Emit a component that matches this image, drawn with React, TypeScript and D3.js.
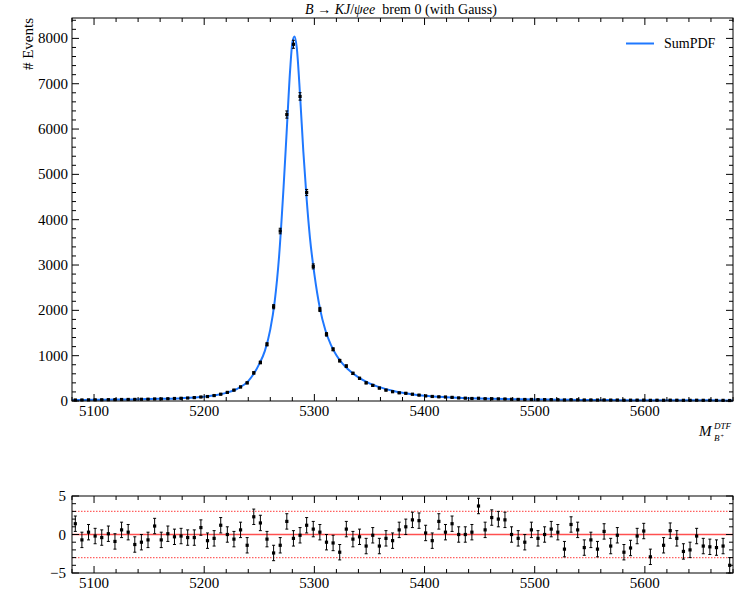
import React from "react";
import * as d3 from "d3";

// Binning: 100 bins of 6 MeV from 5080 to 5680
const xDomain: [number, number] = [5080, 5680];
const binCenters: number[] = d3.range(5083, 5680, 6);

// Event counts per bin
const counts: number[] = [
  22, 23, 25, 26, 27, 29, 30, 33, 34, 35,
  38, 40, 45, 46, 50, 55, 60, 66, 75, 88,
  98, 120, 150, 190, 240, 310, 400, 620, 850, 1250,
  2080, 3750, 6320, 7870, 6720, 4600, 2970, 2020, 1470, 1140,
  890, 770, 610, 500, 400, 345, 285, 240, 205, 180,
  170, 150, 130, 112, 100, 92, 88, 80, 68, 62,
  55, 60, 50, 50, 47, 44, 38, 35, 33, 34,
  31, 30, 30, 28, 23, 28, 26, 22, 23, 21,
  23, 20, 21, 17, 18, 19, 20, 15, 17, 16,
  18, 17, 15, 15, 17, 15, 15, 14, 14, 11,
];

// Fitted SumPDF curve samples
const curveX: number[] = [
  5080, 5100, 5120, 5140, 5160, 5180, 5200, 5210, 5220, 5230,
  5240, 5245, 5250, 5255, 5260, 5264, 5268, 5272, 5275, 5278,
  5280, 5282, 5284, 5287, 5290, 5293, 5296, 5300, 5305, 5310,
  5315, 5320, 5325, 5330, 5340, 5350, 5360, 5370, 5380, 5390,
  5400, 5420, 5440, 5460, 5480, 5500, 5520, 5540, 5560, 5580,
  5600, 5620, 5640, 5660, 5680,
];
const curveY: number[] = [
  20, 25, 31, 38, 48, 63, 95, 125, 180, 270,
  440, 600, 820, 1100, 1580, 2200, 3200, 4700, 6000, 7300,
  7900, 8040, 7800, 6750, 5500, 4450, 3600, 2800, 2050, 1560,
  1240, 1010, 840, 710, 520, 390, 300, 230, 180, 145,
  118, 85, 63, 50, 40, 33, 28, 24, 21, 19,
  17, 16, 15, 14, 13,
];

// Pulls per bin (null = not drawn)
const pulls: (number | null)[] = [
  1.4, -0.7, 0.3, -0.2, -0.4, 0.1, -0.9, 0.6, 0.3, -1.3,
  -1.0, -0.7, 1.1, -0.7, 0.1, -0.3, -0.2, -0.4, -0.4, 0.9,
  -0.8, -0.5, 1.2, 0.0, -0.6, 0.6, -1.4, 2.3, 1.5, -0.6,
  -2.4, -1.4, 1.7, -0.5, -0.1, 1.2, 0.7, 0.3, -1.0, -1.1,
  -2.3, 0.7, -0.6, -0.3, -1.5, -0.1, -1.5, -0.5, -0.8, 0.6,
  1.0, 1.9, 1.8, 0.2, -0.8, 1.7, 0.3, 1.4, 0.0, 0.0,
  0.3, 3.7, 0.6, 2.2, 2.0, 1.9, 0.0, -0.5, -1.0, 0.6,
  -0.5, 0.0, 0.7, 0.3, -1.9, 1.3, 0.6, -1.7, -0.7, -1.9,
  0.4, -1.5, -0.1, -2.3, -1.75, -0.2, 0.45, -2.9, null, -1.4,
  0.5, -0.5, -2.2, -2.0, -0.2, -1.5, -1.6, -1.7, -1.5, -4.0,
];

const xMajor: number[] = [5100, 5200, 5300, 5400, 5500, 5600];
const yTopMajor: number[] = [0, 1000, 2000, 3000, 4000, 5000, 6000, 7000, 8000];
const yBotMajor: number[] = [-5, 0, 5];

const FONT = "'Times New Roman', 'Liberation Serif', 'DejaVu Serif', serif";
const BLUE = "#1f78ff";

export default function App() {
  const L = 72, R = 733;
  const T1 = 18, B1 = 401;
  const T2 = 496, B2 = 573;
  const x = d3.scaleLinear().domain(xDomain).range([L, R]);
  const yT = d3.scaleLinear().domain([0, 8450]).range([B1, T1]);
  const yB = d3.scaleLinear().domain([-5, 5]).range([B2, T2]);

  const xMinor = d3.range(5080, 5681, 20).filter((v) => v % 100 !== 0);
  const yTopMinor = d3.range(0, 8451, 200).filter((v) => v % 1000 !== 0);
  const yBotMinor = d3.range(-5, 6, 1).filter((v) => v % 5 !== 0);

  const line = d3
    .line<number>()
    .x((_, i) => x(curveX[i]))
    .y((d) => yT(d))
    .curve(d3.curveMonotoneX);

  const MAJ = 7, MIN = 4;

  const frameTicks = (top: number, bottom: number, yScale: d3.ScaleLinear<number, number>, yMaj: number[], yMin: number[], key: string) => {
    const els: React.ReactNode[] = [];
    xMajor.forEach((v) => {
      els.push(<line key={`${key}xb${v}`} x1={x(v)} x2={x(v)} y1={bottom} y2={bottom - MAJ} stroke="#000" />);
      els.push(<line key={`${key}xt${v}`} x1={x(v)} x2={x(v)} y1={top} y2={top + MAJ} stroke="#000" />);
    });
    xMinor.forEach((v) => {
      els.push(<line key={`${key}xbm${v}`} x1={x(v)} x2={x(v)} y1={bottom} y2={bottom - MIN} stroke="#000" />);
      els.push(<line key={`${key}xtm${v}`} x1={x(v)} x2={x(v)} y1={top} y2={top + MIN} stroke="#000" />);
    });
    yMaj.forEach((v) => {
      els.push(<line key={`${key}yl${v}`} x1={L} x2={L + MAJ} y1={yScale(v)} y2={yScale(v)} stroke="#000" />);
      els.push(<line key={`${key}yr${v}`} x1={R} x2={R - MAJ} y1={yScale(v)} y2={yScale(v)} stroke="#000" />);
    });
    yMin.forEach((v) => {
      els.push(<line key={`${key}ylm${v}`} x1={L} x2={L + MIN} y1={yScale(v)} y2={yScale(v)} stroke="#000" />);
      els.push(<line key={`${key}yrm${v}`} x1={R} x2={R - MIN} y1={yScale(v)} y2={yScale(v)} stroke="#000" />);
    });
    return els;
  };

  return (
    <svg
      width={740}
      height={591}
      style={{ position: "absolute", left: 0, top: 0, background: "#fff", fontFamily: FONT }}
    >
      <rect x={0} y={0} width={740} height={591} fill="#fff" />

      {/* Title */}
      <text x={401} y={14} textAnchor="middle" fontSize={14}>
        <tspan fontStyle="italic">B</tspan>
        <tspan>{" → "}</tspan>
        <tspan fontStyle="italic">KJ</tspan>
        <tspan>/</tspan>
        <tspan fontStyle="italic">ψee</tspan>
        <tspan dx={7}>brem 0 (with Gauss)</tspan>
      </text>

      {/* Top panel */}
      <path d={line(curveY) || ""} fill="none" stroke={BLUE} strokeWidth={2} />
      {counts.map((c, i) => {
        const cx = x(binCenters[i]);
        const e = Math.sqrt(c);
        return (
          <g key={`pt${i}`}>
            <line x1={cx} x2={cx} y1={yT(c - e)} y2={yT(c + e)} stroke="#000" strokeWidth={1} />
            <line x1={cx - 1.5} x2={cx + 1.5} y1={yT(c - e)} y2={yT(c - e)} stroke="#000" strokeWidth={1} />
            <line x1={cx - 1.5} x2={cx + 1.5} y1={yT(c + e)} y2={yT(c + e)} stroke="#000" strokeWidth={1} />
            <rect x={cx - 1.6} y={yT(c) - 1.6} width={3.2} height={3.2} fill="#000" />
          </g>
        );
      })}
      <rect x={L} y={T1} width={R - L} height={B1 - T1} fill="none" stroke="#000" strokeWidth={1} />
      {frameTicks(T1, B1, yT, yTopMajor, yTopMinor, "t")}
      {yTopMajor.map((v) => (
        <text key={`ytl${v}`} x={68} y={yT(v) + 5} textAnchor="end" fontSize={15}>
          {v}
        </text>
      ))}
      {xMajor.map((v) => (
        <text key={`xtl${v}`} x={x(v)} y={416} textAnchor="middle" fontSize={15}>
          {v}
        </text>
      ))}
      <text transform="translate(33,18) rotate(-90)" textAnchor="end" fontSize={15}>
        # Events
      </text>

      {/* Legend */}
      <line x1={626} x2={654} y1={43.5} y2={43.5} stroke={BLUE} strokeWidth={2} />
      <text x={664} y={48} fontSize={14}>
        SumPDF
      </text>

      {/* x-axis label */}
      <text x={699} y={436} fontSize={15} fontStyle="italic">
        M
      </text>
      <text x={714} y={429} fontSize={9} fontStyle="italic">
        DTF
      </text>
      <text x={714} y={441} fontSize={9} fontStyle="italic">
        B
      </text>
      <text x={720.5} y={438} fontSize={6}>
        +
      </text>

      {/* Bottom panel */}
      <line x1={L} x2={R} y1={yB(3)} y2={yB(3)} stroke="#ff6060" strokeWidth={1.2} strokeDasharray="1.5,1.5" />
      <line x1={L} x2={R} y1={yB(-3)} y2={yB(-3)} stroke="#ff6060" strokeWidth={1.2} strokeDasharray="1.5,1.5" />
      <line x1={L} x2={R} y1={yB(0)} y2={yB(0)} stroke="#ff5050" strokeWidth={1.5} />
      {pulls.map((p, i) => {
        if (p === null) return null;
        const cx = x(binCenters[i]);
        return (
          <g key={`pl${i}`}>
            <line x1={cx} x2={cx} y1={yB(p - 1)} y2={yB(p + 1)} stroke="#000" strokeWidth={1} />
            <line x1={cx - 1.5} x2={cx + 1.5} y1={yB(p - 1)} y2={yB(p - 1)} stroke="#000" strokeWidth={1} />
            <line x1={cx - 1.5} x2={cx + 1.5} y1={yB(p + 1)} y2={yB(p + 1)} stroke="#000" strokeWidth={1} />
            <rect x={cx - 1.6} y={yB(p) - 1.6} width={3.2} height={3.2} fill="#000" />
          </g>
        );
      })}
      <rect x={L} y={T2} width={R - L} height={B2 - T2} fill="none" stroke="#000" strokeWidth={1} />
      {frameTicks(T2, B2, yB, yBotMajor, yBotMinor, "b")}
      {yBotMajor.map((v) => (
        <text key={`ybl${v}`} x={66} y={yB(v) + 5} textAnchor="end" fontSize={15}>
          {v < 0 ? `−${Math.abs(v)}` : v}
        </text>
      ))}
      {xMajor.map((v) => (
        <text key={`xbl${v}`} x={x(v)} y={588} textAnchor="middle" fontSize={15}>
          {v}
        </text>
      ))}
    </svg>
  );
}
